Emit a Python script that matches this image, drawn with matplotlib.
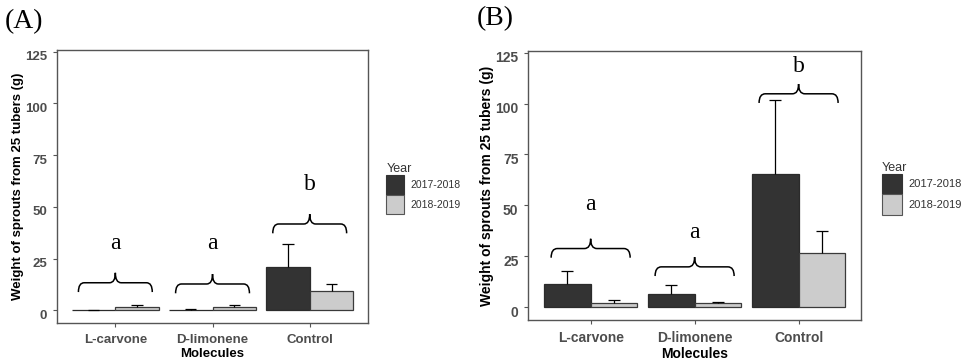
import matplotlib
matplotlib.use("Agg")
import matplotlib.pyplot as plt
import matplotlib.transforms as mtransforms
from matplotlib.patches import Patch, PathPatch
from matplotlib.path import Path
import numpy as np

# Dados: peso dos brotos (g) de 25 tubérculos, média e erro por ano
moleculas = ["L-carvone", "D-limonene", "Control"]
anos = ["2017-2018", "2018-2019"]

a_media_2017 = [0.0, 0.3, 20.8]
a_erro_2017 = [0.0, 0.3, 11.1]
a_media_2018 = [1.4, 1.5, 9.3]
a_erro_2018 = [1.0, 1.0, 3.3]
a_chave_y = [13.3, 12.7, 41.7]
a_letra_y = [29.5, 29.5, 58.2]
a_letras = ["a", "a", "b"]

b_media_2017 = [11.5, 6.6, 65.2]
b_erro_2017 = [6.2, 4.1, 36.4]
b_media_2018 = [1.9, 1.9, 26.7]
b_erro_2018 = [1.7, 0.8, 10.7]
b_chave_y = [28.8, 19.8, 104.8]
b_letra_y = [47.5, 34.0, 115.4]
b_letras = ["a", "a", "b"]

COR_ESCURA = "#333333"
COR_CLARA = "#CCCCCC"
COR_TEXTO = "#4D4D4D"
SANS = "Liberation Sans"
SERIF = "Liberation Serif"


def desenhar_chave(ax, xc, y, meia=0.38, queda=4.5, ponta=4.8, r=0.06):
    # chave horizontal com as pontas para baixo e o bico para cima
    x0, x1 = xc - meia, xc + meia
    verts = [
        (x0, y - queda), (x0, y), (x0 + r, y),
        (xc - r, y),
        (xc, y), (xc, y + ponta),
        (xc, y), (xc + r, y),
        (x1 - r, y),
        (x1, y), (x1, y - queda),
    ]
    codes = [Path.MOVETO, Path.CURVE3, Path.CURVE3, Path.LINETO,
             Path.CURVE3, Path.CURVE3, Path.CURVE3, Path.CURVE3,
             Path.LINETO, Path.CURVE3, Path.CURVE3]
    ax.add_patch(PathPatch(Path(verts, codes), fill=False, lw=1.1,
                           edgecolor="black", capstyle="butt"))


def plotar_painel(fig, ax, m1, e1, m2, e2, chave_y, letra_y, letras, fs=9.5):
    x = np.arange(1, len(moleculas) + 1)
    larg = 0.45
    ax.bar(x - larg / 2, m1, larg, color=COR_ESCURA, edgecolor="#2b2b2b",
           linewidth=0.9, zorder=2)
    ax.bar(x + larg / 2, m2, larg, color=COR_CLARA, edgecolor="#3a3a3a",
           linewidth=0.9, zorder=2)

    # barras de erro só para cima
    for deslocamento, medias, erros in [(-larg / 2, m1, e1), (larg / 2, m2, e2)]:
        xs = x + deslocamento
        topo = np.array(medias) + np.array(erros)
        ax.vlines(xs, medias, topo, color="black", lw=0.9, zorder=3)
        ax.hlines(topo, xs - 0.06, xs + 0.06, color="black", lw=0.9, zorder=3)

    for i in range(len(moleculas)):
        desenhar_chave(ax, x[i], chave_y[i])
        ax.text(x[i], letra_y[i], letras[i], ha="center", va="baseline",
                fontsize=17, family=SERIF)

    ax.set_xlim(0.4, 3.6)
    ax.set_ylim(-6.3, 125.8)
    ax.set_yticks([0, 25, 50, 75, 100, 125])
    ax.set_xticks(x)
    ax.set_xticklabels(moleculas)
    ax.tick_params(axis="both", length=3, width=0.8, color="#555555")
    ax.tick_params(axis="x", pad=5)
    ax.tick_params(axis="y", pad=4)
    for lab in ax.get_xticklabels() + ax.get_yticklabels():
        lab.set_fontfamily(SANS)
        lab.set_fontweight("bold")
        lab.set_fontsize(fs)
        lab.set_color(COR_TEXTO)
    # os números do eixo y ficam um pouco abaixo das marcas
    # (depois do tick_params, que redefine a transformação)
    desloca = mtransforms.ScaledTranslation(0, -4 / 100, fig.dpi_scale_trans)
    for lab in ax.get_yticklabels():
        lab.set_transform(lab.get_transform() + desloca)
    for sp in ax.spines.values():
        sp.set_color("#555555")
        sp.set_linewidth(1.0)

    ax.set_xlabel("Molecules", family=SANS, fontweight="bold", fontsize=fs,
                  labelpad=1)
    ax.set_ylabel("Weight of sprouts from 25 tubers (g)", family=SANS,
                  fontweight="bold", fontsize=fs, labelpad=1)


def legenda(fig, x, y, fs, hl):
    handles = [Patch(facecolor=COR_ESCURA, edgecolor="#333333", lw=0.8),
               Patch(facecolor=COR_CLARA, edgecolor="#555555", lw=0.8)]
    leg = fig.legend(handles, anos, title="Year", loc="upper left",
                     bbox_to_anchor=(x, y), frameon=False,
                     prop={"family": SANS, "size": fs},
                     title_fontproperties={"family": SANS, "size": 9},
                     handlelength=hl, handleheight=2.5, labelspacing=0,
                     handletextpad=0.6, borderpad=0, alignment="left")
    for t in leg.get_texts():
        t.set_color("#333333")
    leg.get_title().set_color("#333333")


fig = plt.figure(figsize=(9.7, 3.62), dpi=100)
ax_a = fig.add_axes([0.0588, 0.1069, 0.3206, 0.755])
ax_b = fig.add_axes([0.5446, 0.116, 0.343, 0.743])

plotar_painel(fig, ax_a, a_media_2017, a_erro_2017, a_media_2018, a_erro_2018,
              a_chave_y, a_letra_y, a_letras, fs=9.5)
plotar_painel(fig, ax_b, b_media_2017, b_erro_2017, b_media_2018, b_erro_2018,
              b_chave_y, b_letra_y, b_letras, fs=10)

legenda(fig, 381 / 970, 1 - 158 / 362, 7.5, 1.73)
legenda(fig, 876 / 970, 1 - 156 / 362, 8, 1.8)

fig.text(5 / 970, 1 - 22 / 362, "(A)", family=SERIF, fontsize=20, va="center")
fig.text(477 / 970, 1 - 19 / 362, "(B)", family=SERIF, fontsize=20, va="center")

fig.savefig("out.png", dpi=100)
